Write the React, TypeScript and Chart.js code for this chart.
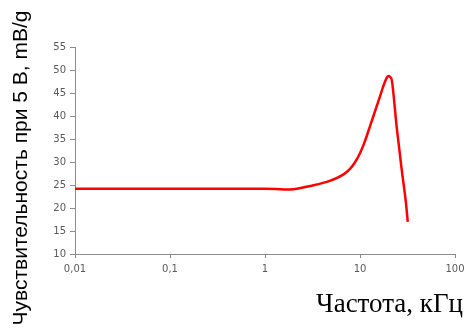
import React, { useEffect, useRef } from "react";
import { Chart, registerables } from "chart.js";

Chart.register(...registerables);

const freqKHz: number[] = [0.01, 0.1, 1, 1.3, 1.7, 2.0, 3.0, 4.8, 6.7, 7.85, 8.9, 10, 11.3, 12.7, 16.2, 17.6, 19.1, 19.9, 20.7, 21.6, 24.3, 27.5, 30.5, 31.8];
const sensitivity: number[] = [24.2, 24.2, 24.2, 24.15, 24.0, 24.1, 24.8, 25.9, 27.3, 28.5, 30.0, 31.9, 34.6, 37.7, 44.2, 46.5, 48.3, 48.7, 48.5, 47.8, 37.7, 28.3, 21.0, 17.0];
const xTicks: number[] = [0.01, 0.1, 1, 10, 100];
const xTickLabels: string[] = ["0,01", "0,1", "1", "10", "100"];
const yTitle = "Чувствительность при 5 В, mB/g";
const xTitle = "Частота, кГц";

const titlesPlugin = {
  id: "customTitles",
  afterDraw(chart: any) {
    const ctx = chart.ctx;
    ctx.save();
    ctx.fillStyle = "#000000";
    ctx.font = "21px 'Liberation Sans', Arial, sans-serif";
    ctx.textAlign = "center";
    ctx.textBaseline = "alphabetic";
    ctx.translate(27, 168);
    ctx.rotate(-Math.PI / 2);
    ctx.fillText(yTitle, 0, 0);
    ctx.restore();

    ctx.save();
    ctx.fillStyle = "#000000";
    ctx.font = "27px 'Liberation Serif', 'Times New Roman', serif";
    ctx.textAlign = "right";
    ctx.textBaseline = "alphabetic";
    ctx.fillText(xTitle, 463, 312);
    ctx.restore();
  },
};

export default function App() {
  const ref = useRef<HTMLCanvasElement>(null);
  useEffect(() => {
    if (!ref.current) return;
    const axisColor = "#8c8c8c";
    const tickFont = { family: "'DejaVu Sans', Verdana, sans-serif", size: 10 };
    const chart = new Chart(ref.current, {
      type: "line",
      data: {
        datasets: [
          {
            data: freqKHz.map((f, i) => ({ x: f, y: sensitivity[i] })),
            borderColor: "#ff0000",
            borderWidth: 2.5,
            pointRadius: 0,
            fill: false,
            cubicInterpolationMode: "monotone",
          },
        ],
      },
      options: {
        responsive: false,
        animation: false,
        events: [],
        layout: { padding: { left: 0, top: 47, right: 12, bottom: 0 } },
        plugins: { legend: { display: false }, tooltip: { enabled: false }, title: { display: false } },
        scales: {
          x: {
            type: "logarithmic",
            min: 0.01,
            max: 100,
            afterBuildTicks: (scale: any) => {
              scale.ticks = xTicks.map((v) => ({ value: v }));
            },
            afterFit: (scale: any) => {
              scale.height = 74;
              scale.paddingLeft = 0;
              scale.paddingRight = 0;
            },
            ticks: {
              color: "#595959",
              font: tickFont,
              padding: 5,
              maxRotation: 0,
              autoSkip: false,
              callback: (value: any) => {
                const idx = xTicks.indexOf(Number(value));
                return idx >= 0 ? xTickLabels[idx] : "";
              },
            },
            grid: { drawOnChartArea: false, drawTicks: true, tickLength: 4, color: axisColor },
            border: { color: axisColor, width: 1 },
          },
          y: {
            type: "linear",
            min: 10,
            max: 55,
            afterFit: (scale: any) => {
              scale.width = 75;
            },
            ticks: { stepSize: 5, color: "#595959", font: tickFont, padding: 4 },
            grid: { drawOnChartArea: false, drawTicks: true, tickLength: 5, color: axisColor },
            border: { color: axisColor, width: 1 },
          },
        },
      },
      plugins: [titlesPlugin],
    } as any);
    return () => chart.destroy();
  }, []);
  return (
    <div style={{ position: "absolute", left: 0, top: 0, width: 467, height: 328, background: "#ffffff" }}>
      <canvas ref={ref} width={467} height={328} style={{ display: "block" }} />
    </div>
  );
}
